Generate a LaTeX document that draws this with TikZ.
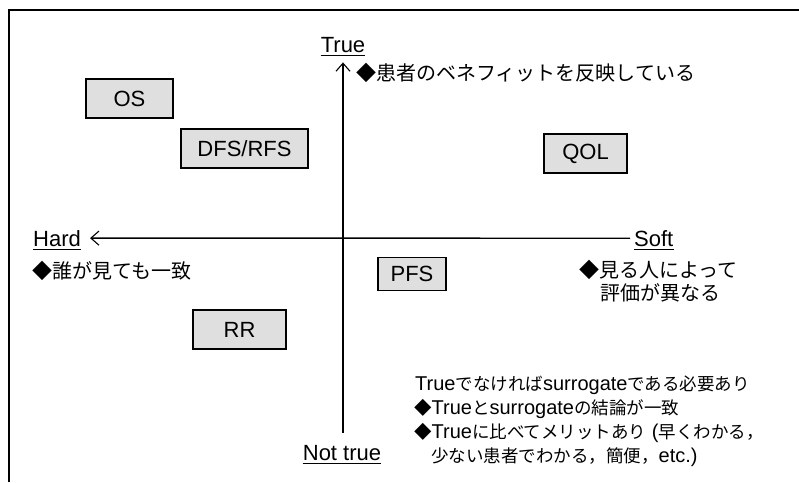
\documentclass[tikz,border=0pt]{standalone}
\usepackage{fontspec}
\setmainfont{Liberation Sans}
\newfontfamily\jpfont{Noto Sans CJK JP}
\usetikzlibrary{arrows.meta}
\newcommand{\J}[1]{{\fontsize{20}{24}\selectfont\jpfont #1}}
\newcommand{\Jb}[1]{{\fontsize{17.5}{24}\selectfont\jpfont #1}}
\tikzset{
  box/.style={draw, line width=1.3pt, fill=gray!25, inner sep=0pt, font=\fontsize{22}{26}\selectfont},
  axislabel/.style={inner sep=0pt, font=\fontsize{22}{26}\selectfont},
  note/.style={inner sep=0pt, font=\fontsize{20}{24}\selectfont},
  axisline/.style={line width=1.3pt},
  axisarrow/.style={-{Straight Barb[length=8pt,width=14pt,line width=1.1pt]}},
  uline/.style={line width=1pt},
  frameline/.style={line width=1.5pt}
}
\begin{document}
\begin{tikzpicture}[x=1pt,y=-1pt]
\useasboundingbox (0,0) rectangle (799,482);
\draw[frameline] (9,482) -- (9,10) -- (799,10);

% axis labels
\node[axislabel, anchor=base] (true) at (343,52) {True};
\node[axislabel, anchor=base] (nottrue) at (342,460) {Not true};
\node[axislabel, anchor=base west] (hard) at (33,246) {Hard};
\node[axislabel, anchor=base west] (soft) at (634,246) {Soft};
\foreach \n in {true,nottrue,hard,soft}
  \draw[uline] ([yshift=-3.5pt]\n.base west) -- ([yshift=-3.5pt]\n.base east);

% axes
\draw[axisline, axisarrow, shorten <=12pt, shorten >=10pt] (nottrue.north -| true) -- (true);
\draw[axisline, axisarrow, shorten <=4pt, shorten >=9pt] (soft.west) -- (hard.east);

% boxes
\node[box, minimum width=87pt, minimum height=39pt] (os) at (129.5,98.5) {OS};
\node[box, minimum width=127pt, minimum height=39pt] (dfs) at (244.5,148.5) {DFS/RFS};
\node[box, minimum width=83pt, minimum height=39pt] (qol) at (585.5,153.5) {QOL};
\node[box, minimum width=68pt, minimum height=33pt] (pfs) at (412,274) {PFS};
\node[box, minimum width=93pt, minimum height=39pt] (rr) at (239.5,329.5) {RR};

% notes
\node[note, anchor=west] (benefit) at (356,73) {\J{◆患者のベネフィットを反映している}};
\node[note, anchor=west] (hardnote) at (32,271) {\J{◆誰が見ても一致}};
\node[note, anchor=west] (softnote1) at (579,270) {\J{◆見る人によって}};
\node[note, anchor=west] (softnote2) at (600,293) {\J{評価が異なる}};

\node[note, anchor=base west] (cond1) at (415,390) {True\Jb{でなければ}surrogate\Jb{である必要あり}};
\node[note, anchor=base west] (cond2) at (414,414) {\Jb{◆}True\Jb{と}surrogate\Jb{の結論が一致}};
\node[note, anchor=base west] (cond3) at (414,438) {\Jb{◆}True\Jb{に比べてメリットあり} (\Jb{早くわかる，}};
\node[note, anchor=base west] (cond4) at (431,462) {\Jb{少ない患者でわかる，簡便，}etc.)};
\end{tikzpicture}
\end{document}
